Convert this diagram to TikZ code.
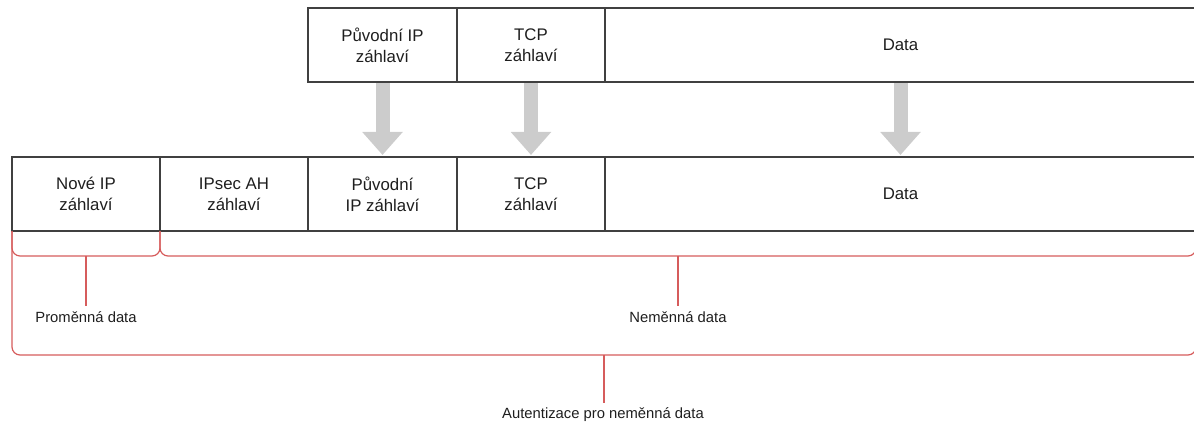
\documentclass[tikz,border=0pt]{standalone}
\usepackage{fontspec}
\setmainfont{Liberation Sans}
\usetikzlibrary{arrows.meta,calc}

\definecolor{boxline}{RGB}{64,64,64}
\definecolor{txt}{RGB}{30,30,30}
\definecolor{bracketred}{RGB}{214,92,92}
\definecolor{arrowgray}{RGB}{204,204,204}

\tikzset{
  field/.style={draw=boxline, line width=1.2pt, anchor=north west,
    minimum height=74pt, inner sep=0pt, outer sep=0pt, align=center,
    text=txt, font=\fontsize{16.8}{21}\selectfont},
  movearrow/.style={draw=arrowgray, line width=14pt,
    -{Triangle[width=39pt,length=23pt]}, shorten <=1.5pt, shorten >=2pt},
  bracket/.style={draw=bracketred, line width=1.2pt, rounded corners=8pt},
  stem/.style={draw=bracketred, line width=1.2pt},
  note/.style={text=txt, font=\fontsize{14.8}{18}\selectfont, inner sep=0pt}
}

\begin{document}
\begin{tikzpicture}[x=1pt,y=-1pt]
  \useasboundingbox (0,0) rectangle (1194,425);
  \clip (0,0) rectangle (1194,425);

  % original packet
  \node[field, minimum width=149pt] (oip)   at (308,8) {Původní IP\\záhlaví};
  \node[field, minimum width=148pt] (otcp)  at (457,8) {TCP\\záhlaví};
  \node[field, minimum width=591pt] (odata) at (605,8) {Data};

  % packet with AH inserted
  \node[field, minimum width=148pt] (nip)  at (12,157)  {Nové IP\\záhlaví};
  \node[field, minimum width=148pt] (ah)   at (160,157) {IPsec AH\\záhlaví};
  \node[field, minimum width=149pt] (pip)  at (308,157) {Původní\\IP záhlaví};
  \node[field, minimum width=148pt] (tcp)  at (457,157) {TCP\\záhlaví};
  \node[field, minimum width=591pt] (data) at (605,157) {Data};

  % fields carried over
  \draw[movearrow] (oip.south)   -- (pip.north);
  \draw[movearrow] (otcp.south)  -- (tcp.north);
  \draw[movearrow] (odata.south) -- (data.north);

  % mutable part
  \coordinate (mutc) at ($(nip.south)+(0,25)$);
  \draw[bracket] (nip.south west) |- (mutc) -| (nip.south east);
  \node[note] (mut) at (86,317) {Proměnná data};
  \draw[stem] (mutc) -- ($(mutc |- mut.north)+(0,-5)$);

  % immutable part
  \coordinate (imm) at ($(ah.south west)!0.5!(data.south east)+(0,25)$);
  \draw[bracket] (ah.south west) |- (imm) -| (data.south east);
  \node[note] (immlbl) at (678,317) {Neměnná data};
  \draw[stem] (imm) -- ($(imm |- immlbl.north)+(0,-5)$);

  % authenticated range
  \coordinate (auth) at ($(nip.south west)!0.5!(data.south east)+(0,124)$);
  \draw[bracket] (nip.south west) |- (auth) -| (data.south east);
  \node[note] (authlbl) at (603,415) {Autentizace pro neměnná data};
  \draw[stem] (auth) -- ($(auth |- authlbl.north)+(0,-5)$);
\end{tikzpicture}
\end{document}
